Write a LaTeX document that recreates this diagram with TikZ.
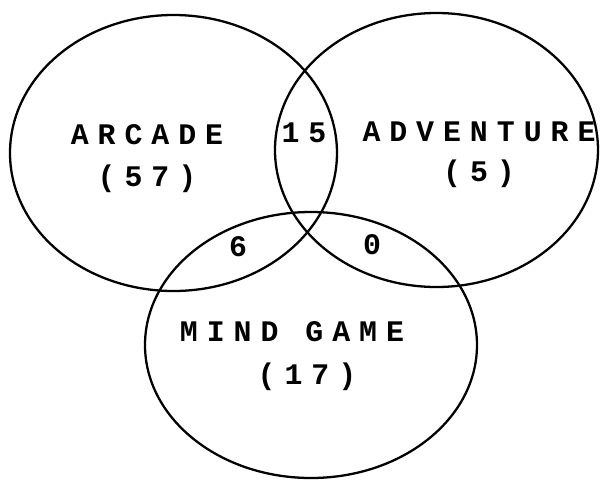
\documentclass[tikz,border=0pt]{standalone}
\usepackage{fontspec}
\newfontfamily\dotfont[LetterSpace=30]{Liberation Mono}

\begin{document}
\begin{tikzpicture}[x=0.02cm, y=-0.02cm,
  set/.style={draw, line width=1.3pt},
  lbl/.style={font=\dotfont\bfseries\fontsize{17}{19}\selectfont, inner sep=0pt}]
\useasboundingbox (0,0) rectangle (600,481);
% the three sets
\draw[set] (173.5,153) ellipse [x radius=163.5, y radius=138];
\draw[set] (436.5,150) ellipse [x radius=161.5, y radius=137];
\draw[set] (311,345) ellipse [x radius=166, y radius=133];
% names and counts
\node[lbl] (arcade) at (147,135) {ARCADE};
\node[lbl] (arcadeN) at (147,179) {(57)};
\node[lbl] (advent) at (479,132) {ADVENTURE};
\node[lbl] (adventN) at (479,174) {(5)};
\node[lbl] (mind) at (292,332) {MIND GAME};
\node[lbl] (mindN) at (307,377) {(17)};
% overlaps
\node[lbl] (arcAdv) at (304,133) {15};
\node[lbl] (arcMind) at (238,247) {6};
\node[lbl] (advMind) at (372,245) {0};
\end{tikzpicture}
\end{document}
